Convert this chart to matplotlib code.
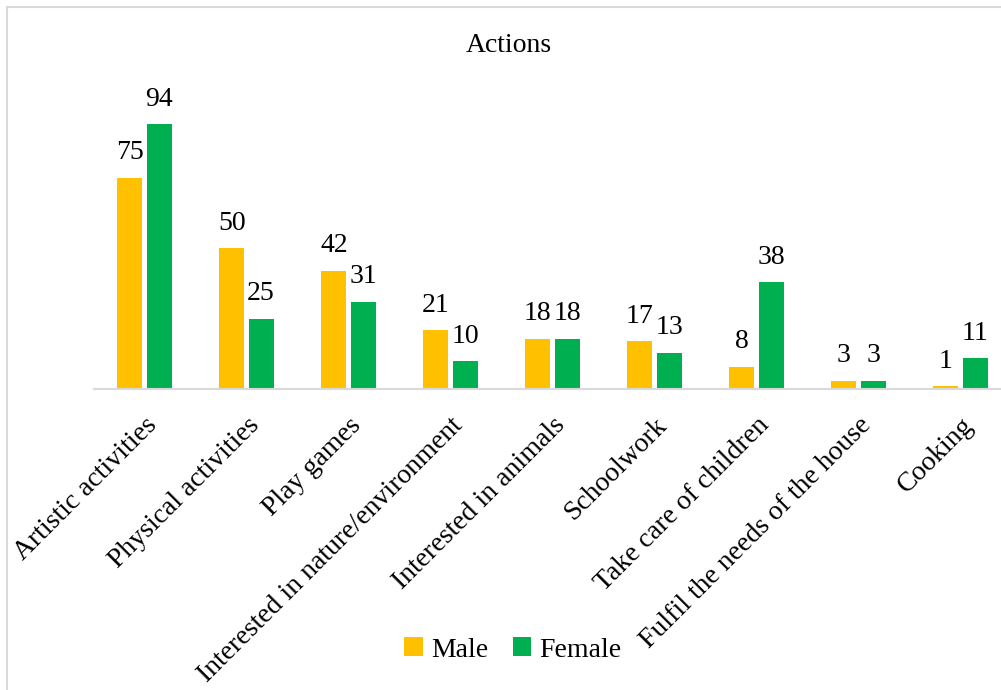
import numpy as np
import matplotlib.pyplot as plt
from matplotlib.patches import Rectangle

categories = ["Artistic activities", "Physical activities", "Play games",
              "Interested in nature/environment", "Interested in animals",
              "Schoolwork", "Take care of children",
              "Fulfil the needs of the house", "Cooking"]
male = [75, 50, 42, 21, 18, 17, 8, 3, 1]
female = [94, 25, 31, 10, 18, 13, 38, 3, 11]

plt.rcParams['font.family'] = ['Liberation Serif', 'DejaVu Serif']

fig = plt.figure(figsize=(10.01, 6.9), dpi=100)
W, H = 1001, 690

# chart area outline (cut off at the right edge like the original)
fig.patches.append(Rectangle((7 / W, -0.1), 1.2, 1 - 7 / H + 0.1,
                             transform=fig.transFigure, fill=False,
                             edgecolor="#d9d9d9", linewidth=1.5))

ax = fig.add_axes([93.5 / W, (H - 389.3) / H, 918 / W, 282.2 / H])

x = np.arange(len(categories))
off = 0.143
w = 0.245
b1 = ax.bar(x - off, male, w, color="#FFC000", label="Male")
b2 = ax.bar(x + off, female, w, color="#00B050", label="Female")

for bars in (b1, b2):
    for rect in bars:
        ax.annotate(f"{int(rect.get_height())}",
                    (rect.get_x() + rect.get_width() / 2, rect.get_height()),
                    xytext=(0, 9), textcoords="offset points",
                    ha="center", va="bottom", fontsize=20)

ax.set_xlim(-0.5, 8.5)
ax.set_ylim(0, 100)
ax.set_yticks([])
ax.set_xticks(x)
ax.set_xticklabels(categories, rotation=45, ha="right", rotation_mode="anchor",
                   fontsize=20)
ax.tick_params(axis="x", length=0, pad=17)
for s in ["top", "right", "left"]:
    ax.spines[s].set_visible(False)
ax.spines["bottom"].set_color("#d9d9d9")
ax.spines["bottom"].set_linewidth(1.5)
ax.patch.set_alpha(0)

fig.text(509 / W, 1 - 46 / H, "Actions", ha="center", va="center", fontsize=20)

fig.legend(handles=[b1, b2], loc="center", bbox_to_anchor=(513 / W, 1 - 650 / H),
           ncol=2, frameon=False, fontsize=20, handlelength=0.65,
           handleheight=0.65, handletextpad=0.3, columnspacing=0.9)

fig.savefig("out.png", dpi=100)
